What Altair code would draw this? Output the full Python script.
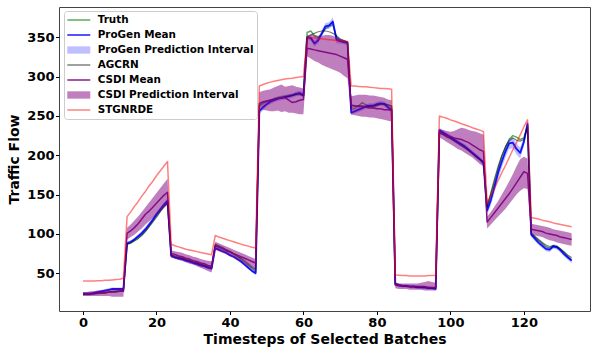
import altair as alt
import pandas as pd

# Timesteps of the selected batches (11 batches laid end to end)
t = list(range(134))

truth = [
    23, 23, 23, 24, 24, 25, 25, 26, 26, 27, 27, 28,
    87, 89, 92, 95, 99, 104, 110, 117, 123, 129, 135, 140,
    73, 71, 70, 69, 67, 66, 64, 63, 61, 60, 58, 57,
    86, 84, 82, 79, 77, 74, 71, 68, 64, 60, 56, 52,
    262, 266, 268, 270, 272, 273, 274, 275, 276, 277, 278, 279, 276,
    356, 358, 352, 350, 354, 361, 364, 366, 350, 346, 345, 344,
    258, 260, 263, 267, 264, 262, 261, 263, 265, 266, 264, 262,
    36, 35, 34, 34, 33, 33, 33, 32, 32, 32, 31, 31,
    230, 227, 224, 222, 219, 216, 213, 210, 206, 203, 199, 195, 192,
    135, 150, 166, 183, 198, 210, 220, 225, 223, 220, 222, 238,
    100, 96, 92, 88, 84, 82, 85, 84, 80, 76, 71, 67,
]

progen_mean = [
    24, 24, 24, 25, 26, 27, 28, 29, 30, 30, 30, 30,
    88, 90, 93, 97, 101, 106, 112, 118, 125, 131, 137, 142,
    72, 70, 69, 68, 66, 65, 63, 62, 60, 59, 57, 56,
    82, 80, 78, 76, 73, 71, 68, 65, 61, 57, 53, 50,
    256, 261, 265, 268, 270, 272, 273, 274, 275, 276, 278, 279, 276,
    350, 349, 342, 346, 355, 364, 365, 370, 347, 345, 344, 343,
    254, 256, 258, 260, 262, 263, 263, 265, 266, 265, 261, 258,
    37, 35, 34, 34, 33, 33, 32, 32, 32, 31, 31, 30,
    232, 229, 226, 223, 220, 217, 214, 211, 207, 203, 199, 195, 190,
    130, 143, 160, 178, 192, 205, 215, 216, 208, 203, 217, 240,
    99, 94, 89, 85, 81, 80, 84, 83, 79, 74, 70, 66,
]

# half width of the ProGen prediction interval
progen_halfwidth = [
    2, 2, 2, 2, 2, 2, 2, 2, 2, 2, 2, 2,
    2, 2, 2, 2, 3, 3, 3, 3, 3, 3, 3, 3,
    2, 2, 2, 2, 2, 2, 2, 2, 2, 2, 2, 2,
    2, 2, 2, 2, 2, 2, 2, 2, 2, 2, 2, 2,
    4, 4, 3, 3, 3, 3, 3, 3, 3, 3, 3, 3, 3,
    3, 3, 4, 4, 4, 4, 4, 5, 5, 3, 3, 3,
    3, 3, 3, 3, 3, 3, 3, 3, 3, 3, 3, 3,
    2, 2, 2, 2, 2, 2, 2, 2, 2, 2, 2, 2,
    3, 3, 3, 3, 3, 3, 3, 3, 3, 3, 3, 3, 3,
    6, 7, 8, 8, 8, 8, 7, 7, 7, 7, 6, 5,
    3, 3, 3, 3, 3, 3, 3, 3, 3, 3, 3, 3,
]

agcrn = [
    23, 23, 24, 24, 25, 25, 26, 26, 27, 27, 28, 28,
    87, 88, 91, 94, 98, 103, 109, 115, 121, 128, 134, 139,
    73, 72, 70, 69, 68, 66, 65, 63, 62, 60, 59, 58,
    87, 85, 83, 80, 78, 75, 72, 69, 66, 62, 58, 55,
    264, 267, 269, 270, 271, 272, 273, 274, 275, 276, 277, 277, 276,
    350, 353, 355, 357, 358, 358, 357, 355, 352, 348, 346, 344,
    261, 262, 263, 263, 262, 262, 263, 264, 265, 265, 264, 263,
    35, 34, 34, 33, 33, 33, 32, 32, 32, 31, 31, 31,
    229, 226, 223, 221, 218, 215, 212, 209, 206, 202, 198, 195, 192,
    134, 152, 170, 186, 200, 211, 218, 222, 219, 218, 220, 236,
    101, 97, 93, 89, 86, 84, 85, 84, 81, 77, 73, 70,
]

csdi_mean = [
    24, 24, 24, 24, 25, 25, 25, 26, 26, 26, 27, 27,
    101, 104, 108, 113, 119, 125, 129, 134, 139, 144, 149, 153,
    75, 74, 72, 71, 69, 68, 66, 65, 63, 62, 60, 59,
    85, 83, 81, 79, 77, 75, 73, 71, 69, 67, 65, 63,
    266, 268, 269, 270, 271, 272, 273, 273, 270, 267, 268, 270, 271,
    336, 335, 334, 333, 332, 331, 330, 329, 328, 326, 324, 322,
    264, 263, 262, 262, 261, 260, 260, 259, 259, 258, 258, 257,
    35, 34, 34, 34, 33, 33, 33, 33, 33, 32, 32, 32,
    228, 227, 225, 224, 222, 221, 220, 218, 216, 213, 210, 207, 205,
    115, 121, 127, 133, 139, 145, 151, 158, 165, 172, 179, 177,
    106, 105, 104, 103, 101, 100, 99, 98, 96, 95, 94, 93,
]

csdi_lower = [
    21, 21, 21, 21, 21, 21, 21, 21, 20, 20, 20, 20,
    93, 96, 99, 103, 107, 112, 116, 120, 125, 129, 133, 137,
    70, 69, 67, 66, 64, 62, 61, 59, 57, 55, 53, 51,
    80, 78, 76, 74, 72, 70, 67, 65, 62, 59, 56, 53,
    260, 258, 257, 256, 256, 257, 255, 256, 254, 254, 253, 252, 252,
    326, 323, 320, 318, 315, 313, 311, 309, 307, 305, 301, 298,
    252, 251, 250, 249, 249, 248, 248, 247, 246, 245, 244, 243,
    31, 30, 30, 30, 29, 29, 29, 29, 28, 28, 28, 28,
    223, 220, 217, 214, 211, 208, 206, 203, 200, 197, 193, 189, 186,
    107, 112, 117, 122, 127, 132, 138, 144, 150, 155, 158, 157,
    99, 98, 97, 96, 94, 92, 91, 89, 88, 87, 86, 85,
]

csdi_upper = [
    26, 26, 27, 27, 28, 28, 29, 29, 30, 30, 31, 31,
    108, 112, 117, 122, 128, 134, 140, 146, 152, 158, 164, 170,
    79, 78, 77, 76, 74, 73, 71, 70, 68, 67, 66, 65,
    90, 88, 86, 84, 82, 80, 78, 76, 74, 72, 70, 68,
    280, 282, 283, 284, 286, 288, 290, 287, 288, 289, 287, 286, 285,
    352, 354, 353, 352, 352, 353, 353, 352, 350, 348, 346, 345,
    275, 276, 277, 277, 277, 276, 276, 275, 274, 273, 271, 270,
    38, 37, 37, 37, 37, 37, 37, 38, 39, 40, 39, 38,
    233, 232, 231, 230, 231, 233, 235, 234, 232, 231, 230, 228, 226,
    122, 128, 135, 142, 150, 158, 167, 176, 186, 195, 198, 196,
    113, 112, 111, 110, 109, 108, 106, 105, 104, 103, 102, 101,
]

stgnrde = [
    40, 40, 40, 40, 40.5, 40.5, 41, 41, 41.5, 42, 42.5, 43.5,
    122, 128, 135, 141, 148, 154, 161, 167, 174, 180, 186, 192,
    87, 85, 83.5, 82, 80.5, 79.5, 78.5, 77.5, 76.5, 75.5, 74.5, 73.5,
    98, 96, 94.5, 93, 91.5, 90, 88.5, 87, 85.5, 84.5, 83, 82,
    288, 290, 291.5, 293, 294, 295, 296, 297, 297.5, 298, 299, 299.5, 300,
    350, 349.5, 349, 348.5, 348, 347.5, 347, 346.5, 346, 345.5, 345, 344,
    288, 288, 287.5, 287, 287, 286.5, 286, 285.5, 285, 285, 284.5, 284,
    48, 47.5, 47, 47, 46.5, 46.5, 46.5, 46.5, 46.5, 47, 47, 47.5,
    250, 248.5, 247, 245, 243.5, 242, 240, 238.5, 237, 235, 233.5, 232, 230,
    139, 149, 158, 168, 178, 187, 197, 207, 216, 226, 236, 245,
    121, 120, 119, 117.5, 116.5, 115.5, 114, 113, 112, 111, 110, 109,
]

x_ticks = [0, 20, 40, 60, 80, 100, 120]
y_ticks = [50, 100, 150, 200, 250, 300, 350]

series_names = [
    "Truth", "ProGen Mean", "ProGen Prediction Interval", "AGCRN",
    "CSDI Mean", "CSDI Prediction Interval", "STGNRDE",
]
series_kind = ["line", "line", "band", "line", "line", "band", "line"]
series_color = ["#008000", "#0000ff", "#0000ff", "#000000", "#800080", "#800080", "#ff0000"]
series_alpha = [0.65, 0.9, 0.25, 0.5, 0.9, 0.5, 0.5]

df = pd.DataFrame({
    "t": t,
    "truth": truth,
    "progen": progen_mean,
    "progen_lo": [m - h for m, h in zip(progen_mean, progen_halfwidth)],
    "progen_hi": [m + h for m, h in zip(progen_mean, progen_halfwidth)],
    "agcrn": agcrn,
    "csdi": csdi_mean,
    "csdi_lo": csdi_lower,
    "csdi_hi": csdi_upper,
    "stgnrde": stgnrde,
})

FONT = "DejaVu Sans"

x_enc = alt.X("t:Q", scale=alt.Scale(domain=[-6.53, 138.0], nice=False, zero=False),
              axis=alt.Axis(values=x_ticks, title="Timesteps of Selected Batches"))


def y_enc(field):
    return alt.Y(f"{field}:Q", scale=alt.Scale(domain=[2, 388.5], nice=False, zero=False),
                 axis=alt.Axis(values=y_ticks, title="Traffic Flow"))


def line_layer(field, idx, width=1.5):
    return alt.Chart(df).mark_line(
        color=series_color[idx], opacity=series_alpha[idx], strokeWidth=width,
        strokeJoin="round",
    ).encode(x=x_enc, y=y_enc(field))


def band_layer(lo, hi, idx):
    return alt.Chart(df).mark_area(
        color=series_color[idx], opacity=series_alpha[idx],
    ).encode(x=x_enc, y=y_enc(lo), y2=f"{hi}:Q")


def blend(hex_color, alpha):
    r, g, b = (int(hex_color[i:i + 2], 16) for i in (1, 3, 5))
    mix = [round(c * alpha + 255 * (1 - alpha)) for c in (r, g, b)]
    return "#" + "".join(f"{c:02x}" for c in mix)


# Legend key: line entries are thin bars, interval entries are patches
LINE_PATH = "M-0.95,-0.125H2.88V0.125H-0.95Z"
PATCH_PATH = "M-0.95,-0.61H2.88V0.61H-0.95Z"
legend_colors = [blend(c, a) for c, a in zip(series_color, series_alpha)]
legend_shapes = [LINE_PATH if k == "line" else PATCH_PATH for k in series_kind]
legend_df = pd.DataFrame({"series": series_names})

legend = alt.Legend(
    title=None, orient="none", legendX=5, legendY=4,
    symbolSize=144, symbolStrokeWidth=0, symbolOpacity=1,
    labelFont=FONT, labelFontSize=10.4, labelFontWeight="bold", labelColor="black",
    labelOffset=18.7, rowPadding=3, padding=3,
    fillColor="rgba(255,255,255,0.8)", strokeColor="#cccccc", cornerRadius=3,
)

legend_layer = alt.Chart(legend_df).mark_point(filled=True, size=0).encode(
    color=alt.Color("series:N", scale=alt.Scale(domain=series_names, range=legend_colors), legend=legend),
    shape=alt.Shape("series:N", scale=alt.Scale(domain=series_names, range=legend_shapes), legend=legend),
)

chart = alt.layer(
    line_layer("truth", 0),
    line_layer("progen", 1, 1.8),
    band_layer("progen_lo", "progen_hi", 2),
    line_layer("agcrn", 3, 1.2),
    line_layer("csdi", 4),
    band_layer("csdi_lo", "csdi_hi", 5),
    line_layer("stgnrde", 6),
    legend_layer,
).properties(
    width=531, height=304,
    padding={"left": 59, "top": 7, "right": 3, "bottom": 41},
    autosize=alt.AutoSizeParams(type="none"),
).configure_view(
    stroke="#444444", strokeWidth=1,
).configure_axis(
    grid=False, domain=False,
    labelFont=FONT, labelFontWeight="bold", labelFontSize=13, labelColor="black",
    titleFont=FONT, titleFontWeight="bold", titleFontSize=14, titleColor="black",
    tickColor="black", tickSize=3.5, tickWidth=1,
).configure_axisX(
    labelPadding=1.5, titlePadding=3,
).configure_axisY(
    labelPadding=1.5, titlePadding=5,
)

chart.save("out.html", embed_options={"renderer": "svg", "actions": False})
